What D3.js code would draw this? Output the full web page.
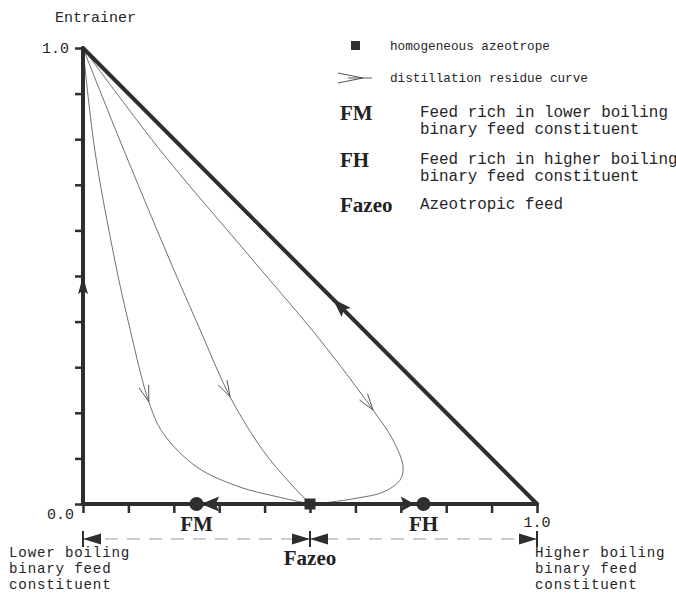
<!DOCTYPE html>
<html>
<head>
<meta charset="utf-8">
<script src="https://cdn.jsdelivr.net/npm/d3@7/dist/d3.min.js"></script>
<style>
  html, body { margin: 0; padding: 0; background: #fff; }
  svg { display: block; }
  .mono { font-family: "Liberation Mono", "Courier New", monospace; fill: #262626; }
  .serif { font-family: "Liberation Serif", "Times New Roman", serif; font-weight: bold; fill: #222; }
</style>
</head>
<body>
<svg id="chart" width="676" height="594"></svg>
<script>
// Ternary diagram (right-triangle form): x = higher boiling binary constituent, y = entrainer.
const tickValues = [0, 0.1, 0.2, 0.3, 0.4, 0.5, 0.6, 0.7, 0.8, 0.9, 1.0];
const axisLabels = ["0.0", "1.0"];

// Distillation residue curves, entrainer vertex -> homogeneous azeotrope
const residueCurve1 = [[0, 1], [0.026, 0.776], [0.070, 0.535], [0.104, 0.382], [0.145, 0.224],
  [0.176, 0.156], [0.251, 0.081], [0.346, 0.037], [0.432, 0.015], [0.5, 0]];
const residueCurve2 = [[0, 1], [0.081, 0.798], [0.191, 0.535], [0.258, 0.382], [0.324, 0.235],
  [0.396, 0.118], [0.456, 0.046], [0.5, 0]];
const residueCurve3 = [[0, 1], [0.170, 0.776], [0.374, 0.535], [0.522, 0.360], [0.639, 0.206],
  [0.683, 0.140], [0.705, 0.081], [0.698, 0.052], [0.661, 0.026], [0.604, 0.013],
  [0.544, 0.004], [0.5, 0]];
const residueCurves = [residueCurve1, residueCurve2, residueCurve3];
const curveArrowIndex = [4, 4, 4];

// Feed points on the binary edge
const feedNames = ["FM", "FH"];
const feedX = [0.25, 0.75];
const azeotropeX = 0.5;

// Direction arrows along the triangle edges: [tip, base] in data units
const edgeArrowFM = [[0.26, 0], [0.30, 0]];
const edgeArrowFH = [[0.73, 0], [0.70, 0]];
const edgeArrowLeft = [[0, 0.50], [0, 0.46]];
const edgeArrowHyp = [[0.55, 0.45], [0.58, 0.42]];

// Legend entries
const legendKeys = ["FM", "FH", "Fazeo"];
const legendText = [
  ["Feed rich in lower boiling", "binary feed constituent"],
  ["Feed rich in higher boiling", "binary feed constituent"],
  ["Azeotropic feed"]
];

const svg = d3.select("#chart");
const ink = "#2e2e2e";

const x = d3.scaleLinear().domain([0, 1]).range([83, 537]);
const y = d3.scaleLinear().domain([0, 1]).range([504, 48]);

// Ticks
svg.append("g")
  .attr("transform", `translate(${x(0)},0)`)
  .call(d3.axisLeft(y).tickValues(tickValues).tickSize(8).tickSizeOuter(0).tickFormat(""))
  .call(g => g.select(".domain").remove())
  .call(g => g.selectAll("line").attr("stroke", ink).attr("stroke-width", 2.5));

svg.append("g")
  .attr("transform", `translate(0,${y(0)})`)
  .call(d3.axisBottom(x).tickValues(tickValues).tickSize(9).tickSizeOuter(0).tickFormat(""))
  .call(g => g.select(".domain").remove())
  .call(g => g.selectAll("line").attr("stroke", ink).attr("stroke-width", 2.5));

// Residue curves
const line = d3.line().x(d => x(d[0])).y(d => y(d[1])).curve(d3.curveCatmullRom.alpha(0.5));
svg.append("g").selectAll("path").data(residueCurves).join("path")
  .attr("d", line).attr("fill", "none").attr("stroke", "#707070").attr("stroke-width", 1);

// Open arrowheads on residue curves
function openHead(g, tipPx, angle, len, spread) {
  const a1 = angle + Math.PI - spread, a2 = angle + Math.PI + spread;
  g.append("path")
    .attr("d", `M${tipPx[0] + len * Math.cos(a1)},${tipPx[1] + len * Math.sin(a1)}L${tipPx[0]},${tipPx[1]}L${tipPx[0] + len * Math.cos(a2)},${tipPx[1] + len * Math.sin(a2)}`)
    .attr("fill", "none").attr("stroke", "#555").attr("stroke-width", 1);
}
const headG = svg.append("g");
residueCurves.forEach((pts, k) => {
  const i = curveArrowIndex[k];
  const p = pts[i], a = pts[i - 1], b = pts[i + 1];
  const ang = Math.atan2(y(b[1]) - y(a[1]), x(b[0]) - x(a[0]));
  openHead(headG, [x(p[0]), y(p[1])], ang, 17, 0.3);
});

// Triangle edges
const edges = [[[0, 0], [1, 0]], [[0, 0], [0, 1]], [[0, 1], [1, 0]]];
svg.append("g").selectAll("line").data(edges).join("line")
  .attr("x1", d => x(d[0][0])).attr("y1", d => y(d[0][1]))
  .attr("x2", d => x(d[1][0])).attr("y2", d => y(d[1][1]))
  .attr("stroke", ink).attr("stroke-width", 4).attr("stroke-linecap", "round");

// Filled arrowheads on edges
function solidHead(g, tip, base, half) {
  const tx = x(tip[0]), ty = y(tip[1]), bx = x(base[0]), by = y(base[1]);
  const dx = tx - bx, dy = ty - by, L = Math.hypot(dx, dy);
  const nx = -dy / L * half, ny = dx / L * half;
  const mx = bx + dx * 0.2, my = by + dy * 0.2;
  g.append("path")
    .attr("d", `M${tx},${ty}L${bx + nx},${by + ny}L${mx},${my}L${bx - nx},${by - ny}Z`)
    .attr("fill", ink);
}
const edgeG = svg.append("g");
[edgeArrowFM, edgeArrowFH].forEach(a => solidHead(edgeG, a[0], a[1], 7.5));
solidHead(edgeG, edgeArrowLeft[0], edgeArrowLeft[1], 5);
solidHead(edgeG, edgeArrowHyp[0], edgeArrowHyp[1], 6.5);

// Feed points
svg.append("g").selectAll("circle").data(feedX).join("circle")
  .attr("cx", d => x(d)).attr("cy", y(0)).attr("r", 7).attr("fill", ink);

// Azeotrope
svg.append("rect").attr("x", x(azeotropeX) - 5.5).attr("y", y(0) - 5.5)
  .attr("width", 11).attr("height", 11).attr("fill", ink);

// Feed labels below the edge
svg.append("g").selectAll("text").data(feedNames).join("text")
  .attr("class", "serif").attr("font-size", 21).attr("text-anchor", "middle")
  .attr("x", (d, i) => x(feedX[i])).attr("y", 531).text(d => d);
svg.append("text").attr("class", "serif").attr("font-size", 21).attr("text-anchor", "middle")
  .attr("x", x(azeotropeX)).attr("y", 565).text("Fazeo");

// Dimension line
const dimY = 539;
const dimG = svg.append("g");
dimG.append("line").attr("x1", x(0)).attr("x2", x(1)).attr("y1", dimY).attr("y2", dimY)
  .attr("stroke", "#9a9a9a").attr("stroke-width", 1.2).attr("stroke-dasharray", "13,9");
[0, azeotropeX, 1].forEach(v => {
  dimG.append("line").attr("x1", x(v)).attr("x2", x(v)).attr("y1", dimY - 8).attr("y2", dimY + 8)
    .attr("stroke", ink).attr("stroke-width", 2);
});
function dimHead(tipX, dir) {
  const bx = tipX - dir * 18;
  dimG.append("path").attr("d", `M${tipX},${dimY}L${bx},${dimY - 5.5}L${bx},${dimY + 5.5}Z`).attr("fill", ink);
}
dimHead(x(0), -1); dimHead(x(azeotropeX), 1); dimHead(x(azeotropeX), -1); dimHead(x(1), 1);

// Axis end labels
svg.append("text").attr("class", "mono").attr("font-size", 15).attr("text-anchor", "end")
  .attr("x", x(0) - 9).attr("y", 519).text(axisLabels[0]);
svg.append("text").attr("class", "mono").attr("font-size", 15).attr("text-anchor", "end")
  .attr("x", x(0) - 14).attr("y", y(1) + 5).text(axisLabels[1]);
svg.append("text").attr("class", "mono").attr("font-size", 15).attr("text-anchor", "middle")
  .attr("x", x(1)).attr("y", 527).text(axisLabels[1]);

svg.append("text").attr("class", "mono").attr("font-size", 15).attr("x", 55).attr("y", 22).text("Entrainer");

// Three-line captions under the binary edge ends
function multiline(lines, px, py, size, step) {
  const t = svg.append("text").attr("class", "mono").attr("font-size", size).attr("letter-spacing", 0.8);
  lines.forEach((s, i) => t.append("tspan").attr("x", px).attr("y", py + i * step).text(s));
}
multiline(["Lower boiling", "binary feed", "constituent"], 9, 557, 14.2, 16.2);
multiline(["Higher boiling", "binary feed", "constituent"], 535, 557, 14.2, 16.2);

// Legend
const lg = svg.append("g");
lg.append("rect").attr("x", 351).attr("y", 41).attr("width", 9).attr("height", 9).attr("fill", ink);
lg.append("text").attr("class", "mono").attr("font-size", 12.7).attr("x", 390).attr("y", 50).text("homogeneous azeotrope");
lg.append("line").attr("x1", 348).attr("x2", 372).attr("y1", 78).attr("y2", 78).attr("stroke", "#555").attr("stroke-width", 1);
lg.append("path").attr("d", "M338,73L363,78L338,83").attr("fill", "none").attr("stroke", "#555").attr("stroke-width", 1);
lg.append("text").attr("class", "mono").attr("font-size", 12.7).attr("x", 390).attr("y", 82).text("distillation residue curve");

const keyY = [120, 167, 212];
legendKeys.forEach((k, i) => {
  lg.append("text").attr("class", "serif").attr("font-size", 21).attr("x", 340).attr("y", keyY[i]).text(k);
  const t = lg.append("text").attr("class", "mono").attr("font-size", 15.9);
  legendText[i].forEach((s, j) => t.append("tspan").attr("x", 420).attr("y", keyY[i] - 3 + j * 17).text(s));
});
</script>
</body>
</html>
